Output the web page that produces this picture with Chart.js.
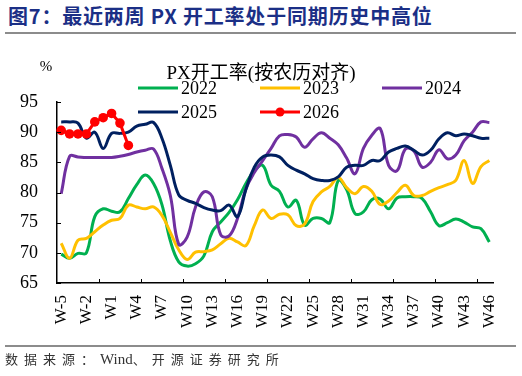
<!DOCTYPE html>
<html>
<head>
<meta charset="utf-8">
<script src="https://cdn.jsdelivr.net/npm/chart.js@4/dist/chart.umd.min.js"></script>
<style>
  html, body { margin: 0; padding: 0; background: #fff; }
  #wrap { position: relative; width: 522px; height: 376px; overflow: hidden; }
  #title { position: absolute; left: 8px; top: 5px; font: bold 20px "Noto Sans CJK SC"; line-height: 21px; color: #1b2f86; white-space: nowrap; letter-spacing: 0.8px; }
  #rule1 { position: absolute; left: 5px; top: 32px; width: 511px; height: 2px; background: #8c8c8c; }
  #rule2 { position: absolute; left: 5px; top: 345px; width: 511px; height: 1.5px; background: #8c8c8c; }
  #source { position: absolute; left: 5px; top: 352px; font: 13px "Noto Sans CJK SC"; line-height: 14px; color: #333; white-space: nowrap; }
  #source .sp { letter-spacing: 6px; }
  #source .en { font-family: "Liberation Serif"; font-size: 15px; letter-spacing: 0; }
  canvas { position: absolute; left: 0; top: 0; }
</style>
</head>
<body>
<div id="wrap">
  <div id="title">图7：最近两周 PX 开工率处于同期历史中高位</div>
  <div id="rule1"></div>
  <canvas id="myChart" width="522" height="376"></canvas>
  <div id="rule2"></div>
  <div id="source"><span class="sp">数据来源：</span><span class="en">Wind</span><span class="sp">、开源证券研究所</span></div>
</div>
<script>
// 周次（按农历对齐）
const weeks = ['W-5', 'W-4', 'W-3', 'W-2', 'W-1', 'W0', 'W1', 'W2', 'W3', 'W4',
    'W5', 'W6', 'W7', 'W8', 'W9', 'W10', 'W11', 'W12', 'W13', 'W14',
    'W15', 'W16', 'W17', 'W18', 'W19', 'W20', 'W21', 'W22', 'W23', 'W24',
    'W25', 'W26', 'W27', 'W28', 'W29', 'W30', 'W31', 'W32', 'W33', 'W34',
    'W35', 'W36', 'W37', 'W38', 'W39', 'W40', 'W41', 'W42', 'W43', 'W44',
    'W45', 'W46'];

const px2022 = [69.8, 69.1, 69.9, 70.0, 76.0, 77.3, 76.9, 76.8, 79.0, 81.3,
    82.9, 81.5, 78.0, 72.0, 68.5, 67.8, 68.2, 69.5, 73.5, 75.1,
    76.7, 78.8, 81.5, 83.6, 84.5, 81.2, 80.2, 77.6, 78.7, 74.6,
    75.7, 75.7, 75.0, 82.0, 80.5, 76.5, 76.8, 78.8, 78.9, 77.3,
    79.1, 79.3, 79.3, 79.0, 76.8, 74.5, 75.0, 75.6, 75.1, 74.3,
    74.0, 71.8];
const px2023 = [71.6, 69.1, 72.1, 72.4, 73.5, 74.6, 75.4, 75.7, 77.9, 77.6,
    77.3, 77.6, 76.2, 73.4, 70.5, 68.9, 70.1, 70.2, 70.5, 71.5,
    72.4, 71.8, 71.2, 74.5, 77.1, 75.7, 76.4, 76.3, 74.5, 74.8,
    78.5, 80.1, 81.0, 82.5, 80.8, 79.8, 81.0, 80.2, 78.0, 78.6,
    80.0, 81.2, 79.5, 79.5, 80.2, 80.8, 81.3, 82.0, 85.3, 81.5,
    84.3, 85.3];
const px2024 = [79.8, 86.0, 85.9, 85.8, 85.8, 85.8, 85.8, 86.0, 86.3, 86.7,
    87.0, 87.2, 84.0, 79.5, 71.4, 72.6, 77.6, 80.1, 79.3, 73.0,
    72.8, 75.7, 80.6, 83.3, 85.3, 87.3, 89.4, 89.6, 89.2, 87.5,
    88.9, 89.9, 89.0, 87.9, 85.7, 83.1, 87.3, 89.5, 90.6, 84.5,
    83.6, 87.2, 86.9, 84.2, 85.0, 87.1, 85.6, 86.2, 88.6, 90.0,
    91.7, 91.6];
const px2025 = [91.7, 91.7, 91.5, 89.0, 90.0, 87.3, 89.8, 89.8, 90.0, 91.0,
    91.3, 91.6, 89.0, 84.5, 79.6, 78.7, 78.2, 77.5, 77.1, 77.0,
    77.9, 76.0, 80.5, 84.2, 85.9, 86.2, 85.9, 84.5, 83.7, 83.1,
    82.3, 82.0, 82.0, 82.6, 84.2, 84.5, 84.5, 85.3, 85.3, 86.7,
    87.3, 87.7, 87.0, 86.2, 87.0, 88.9, 89.9, 89.4, 89.7, 89.4,
    89.0, 89.0];
const px2026 = [90.3, 89.7, 89.7, 89.7, 91.7, 92.4, 93.1, 91.5, 87.8];

const yTicks = [65, 70, 75, 80, 85, 90, 95];

const serif = '"Liberation Serif", "Noto Sans CJK SC"';

// 图例位置（线段起点）
const legendSlots = [[138, 88], [260, 88], [382, 88], [138, 112], [260, 112]];

const extras = {
    id: 'extras',
    afterDraw(chart) {
        const { ctx, scales } = chart;
        const x = scales.x, y = scales.y;
        ctx.save();
        // 向内的刻度线
        ctx.strokeStyle = '#000';
        ctx.lineWidth = 1;
        const step = x.width / weeks.length;
        ctx.beginPath();
        for (let i = 5; i < weeks.length; i += 5) {
            const px = Math.round(x.left + i * step) + 0.5;
            ctx.moveTo(px, y.bottom);
            ctx.lineTo(px, y.bottom - 4);
        }
        yTicks.forEach(v => {
            const py = Math.round(y.getPixelForValue(v)) + 0.5;
            ctx.moveTo(x.left, py);
            ctx.lineTo(x.left + 4, py);
        });
        ctx.stroke();

        // 单位
        ctx.fillStyle = '#000';
        ctx.font = '15px ' + serif;
        ctx.textAlign = 'center';
        ctx.textBaseline = 'middle';
        ctx.fillText('%', 46, 67);

        // 图例
        ctx.font = '19px ' + serif;
        ctx.fillText('PX开工率(按农历对齐)', 261, 74);
        ctx.textAlign = 'left';
        ctx.font = '18px ' + serif;
        chart.data.datasets.forEach((ds, k) => {
            const [lx, ly] = legendSlots[k];
            ctx.strokeStyle = ds.borderColor;
            ctx.lineWidth = 3;
            ctx.beginPath();
            ctx.moveTo(lx, ly);
            ctx.lineTo(lx + 40, ly);
            ctx.stroke();
            if (ds.pointRadius > 0) {
                ctx.fillStyle = ds.borderColor;
                ctx.beginPath();
                ctx.arc(lx + 20, ly, 4.5, 0, Math.PI * 2);
                ctx.fill();
            }
            ctx.fillStyle = '#000';
            ctx.fillText(ds.label, lx + 43, ly + 1);
        });
        ctx.restore();
    }
};

const lineSet = (label, data, color, order) => ({
    label: label,
    data: data,
    borderColor: color,
    backgroundColor: color,
    borderWidth: 3,
    pointRadius: 0,
    tension: 0.4,
    fill: false,
    order: order
});

const ctx = document.getElementById('myChart').getContext('2d');
const myChart = new Chart(ctx, {
    type: 'line',
    data: {
        labels: weeks,
        datasets: [
            lineSet('2022', px2022, '#00b050', 5),
            lineSet('2023', px2023, '#ffc000', 4),
            lineSet('2024', px2024, '#7030a0', 3),
            lineSet('2025', px2025, '#002060', 2),
            {
                label: '2026',
                data: px2026,
                borderColor: '#ff0000',
                backgroundColor: '#ff0000',
                borderWidth: 3,
                pointRadius: 4.8,
                pointBorderWidth: 0,
                tension: 0,
                fill: false,
                order: 1
            }
        ]
    },
    options: {
        responsive: false,
        animation: false,
        layout: {
            padding: { left: 0, right: 27, top: 102, bottom: 33 }
        },
        plugins: {
            legend: { display: false },
            tooltip: { enabled: false }
        },
        scales: {
            x: {
                offset: true,
                grid: { display: false, drawTicks: false },
                border: { color: '#000', width: 1.5 },
                afterFit: function (scale) { scale.height = 60; },
                ticks: {
                    autoSkip: false,
                    minRotation: 90,
                    maxRotation: 90,
                    padding: 12,
                    color: '#000',
                    font: { family: serif, size: 17 },
                    callback: function (value, index) {
                        return index % 3 === 0 ? weeks[index] : '';
                    }
                }
            },
            y: {
                min: 65,
                max: 95,
                grid: { display: false, drawTicks: false },
                border: { color: '#000', width: 1.5 },
                afterFit: function (scale) { scale.width = 57; },
                ticks: {
                    stepSize: 5,
                    padding: 19,
                    color: '#000',
                    font: { family: serif, size: 18 }
                }
            }
        }
    },
    plugins: [extras]
});
</script>
</body>
</html>
